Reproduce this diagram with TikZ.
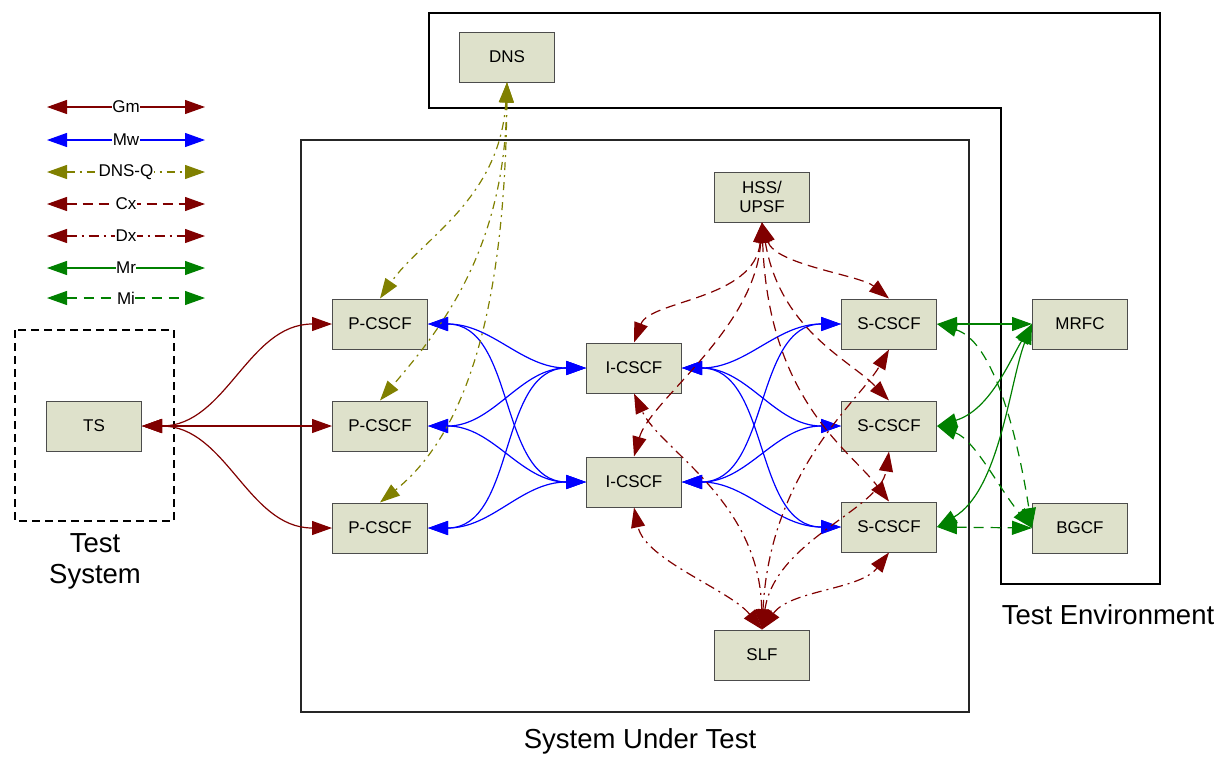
\documentclass[tikz,border=0pt]{standalone}
\usepackage{fontspec}
\setmainfont{Liberation Sans}
\usetikzlibrary{arrows.meta}
\definecolor{dred}{HTML}{800000}
\definecolor{dblue}{HTML}{0000FF}
\definecolor{olv}{HTML}{808000}
\definecolor{dgreen}{HTML}{008000}
\definecolor{boxfill}{HTML}{DEE1CB}
\begin{document}
\begin{tikzpicture}[x=1pt,y=-1pt,
 box/.style={draw=black!70, line width=1pt, fill=boxfill, minimum width=95pt, minimum height=50pt, inner sep=2pt, align=center, font=\fontsize{17}{19}\selectfont},
 conn/.style={line width=1.2pt, {Triangle[length=20pt,width=14pt]}-{Triangle[length=20pt,width=14pt]}},
 gm/.style={conn, dred},
 mw/.style={conn, dblue},
 dnsq/.style={conn, olv, dash pattern=on 8pt off 5pt on 2pt off 5pt},
 cx/.style={conn, dred, dash pattern=on 10pt off 6pt},
 dx/.style={conn, dred, dash pattern=on 10pt off 5pt on 2pt off 5pt},
 mr/.style={conn, dgreen},
 mi/.style={conn, dgreen, dash pattern=on 10pt off 7pt},
 frame/.style={draw=black, line width=1.3pt},
 biglabel/.style={font=\fontsize{27.5}{31}\selectfont, align=center},
 leglabel/.style={fill=white, text=black, inner sep=0.5pt, font=\fontsize{17}{19}\selectfont},
]
\useasboundingbox (0,0) rectangle (1218,756);
% frames
\draw[frame] (429,13) -- (1160,13) -- (1160,584) -- (1001,584) -- (1001,108) -- (429,108) -- cycle;
\draw[frame, draw=black!85] (301,140) rectangle (969,712);
\draw[line width=1.3pt, dash pattern=on 8pt off 5pt] (15,330) rectangle (174,521);
\node[biglabel] (lts) at (95,561) {Test\\System};
\node[biglabel] (lsut) at (640,741) {System Under Test};
\node[biglabel] (lte) at (1108,615) {Test Environment};
% legend
\foreach \y/\st/\lab [count=\i] in {107/gm/Gm,140/mw/Mw,172/dnsq/DNS-Q,204/cx/Cx,236/dx/Dx,268/mr/Mr,298/mi/Mi}{
  \coordinate (la\i) at (47,\y);
  \coordinate (lb\i) at (205,\y);
  \draw[\st] (la\i) -- (lb\i) node[midway, leglabel] {\lab};
}
% nodes
\node[box] (dns) at (507,57) {DNS};
\node[box] (hss) at (762,197) {HSS/\\UPSF};
\node[box] (p1) at (380,324) {P-CSCF};
\node[box] (p2) at (380,426) {P-CSCF};
\node[box] (p3) at (380,528) {P-CSCF};
\node[box] (i1) at (634,368) {I-CSCF};
\node[box] (i2) at (634,482) {I-CSCF};
\node[box] (s1) at (889,324) {S-CSCF};
\node[box] (s2) at (889,426) {S-CSCF};
\node[box] (s3) at (889,527) {S-CSCF};
\node[box] (mrfc) at (1080,324) {MRFC};
\node[box] (bgcf) at (1080,528) {BGCF};
\node[box] (slf) at (762,655) {SLF};
\node[box] (ts) at (94,426) {TS};
% Gm
\draw[gm] (ts.east) to[out=0,in=180] (p1.west);
\draw[gm] (ts.east) -- (p2.west);
\draw[gm] (ts.east) to[out=0,in=180] (p3.west);
% Mw
\foreach \a in {p1,p2,p3}{
  \foreach \b in {i1,i2}{
    \draw[mw] (\a.east) to[out=0,in=180] (\b.west);
  }
}
\foreach \a in {i1,i2}{
  \foreach \b in {s1,s2,s3}{
    \draw[mw] (\a.east) to[out=0,in=180] (\b.west);
  }
}
% DNS-Q
\draw[dnsq] (dns.south) .. controls (500,200) and (420,240) .. (p1.north);
\draw[dnsq] (dns.south) .. controls (505,250) and (440,330) .. (p2.north);
\draw[dnsq] (dns.south) .. controls (505,300) and (470,430) .. (p3.north);
% Cx
\draw[cx] (hss.south) .. controls (755,300) and (650,300) .. (i1.north);
\draw[cx] (hss.south) .. controls (775,265) and (860,275) .. (s1.north);
\draw[cx] (hss.south) .. controls (755,330) and (650,400) .. (i2.north);
\draw[cx] (hss.south) .. controls (780,330) and (850,360) .. (s2.north);
\draw[cx] (hss.south) .. controls (768,400) and (850,450) .. (s3.north);
% Dx
\draw[dx] (slf.north) .. controls (760,500) and (660,450) .. (i1.south);
\draw[dx] (slf.north) .. controls (730,590) and (645,560) .. (i2.south);
\draw[dx] (slf.north) .. controls (770,470) and (860,400) .. (s1.south);
\draw[dx] (slf.north) .. controls (775,540) and (880,510) .. (s2.south);
\draw[dx] (slf.north) .. controls (790,590) and (860,590) .. (s3.south);
% Mr
\draw[mr] (s1.east) -- (mrfc.west);
\draw[mr] (s2.east) .. controls (990,410) and (1010,360) .. (mrfc.west);
\draw[mr] (s3.east) .. controls (1000,490) and (1010,380) .. (mrfc.west);
% Mi
\draw[mi] (s1.east) .. controls (990,340) and (1015,420) .. (bgcf.west);
\draw[mi] (s2.east) .. controls (975,440) and (1000,490) .. (bgcf.west);
\draw[mi] (s3.east) -- (bgcf.west);
\end{tikzpicture}
\end{document}
